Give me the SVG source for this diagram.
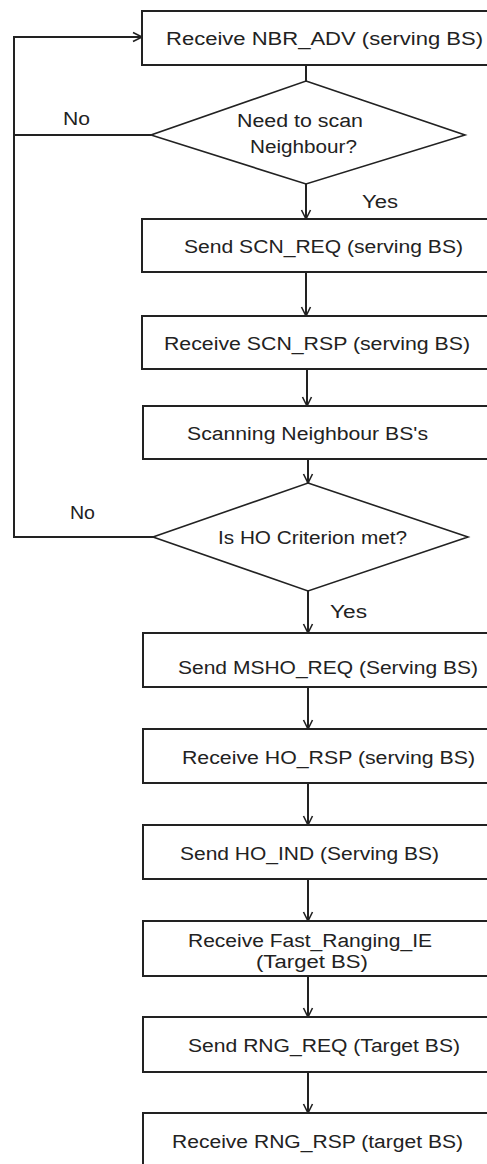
<svg xmlns="http://www.w3.org/2000/svg" width="487" height="1164" viewBox="0 0 487 1164">
  <style>
    .box { fill: #fff; stroke: #222; stroke-width: 2; }
    .dec { fill: #fff; stroke: #222; stroke-width: 1.6; }
    .lbl { font-family: "Liberation Sans", Arial, sans-serif; font-size: 18px; fill: #222; }
    .edge { fill: none; stroke: #222; stroke-width: 2; }
  </style>
  <defs>
    <marker id="arr" viewBox="0 0 12 12" refX="10" refY="6" markerWidth="12" markerHeight="12" markerUnits="userSpaceOnUse" orient="auto">
      <path d="M1,1.5 L10,6 L1,10.5" fill="none" stroke="#222" stroke-width="1.6"/>
      <circle cx="10" cy="6" r="1.4" fill="#222"/>
    </marker>
  </defs>
  <rect width="487" height="1164" fill="#fff"/>

  <g id="connectors">
    <path class="edge" d="M306,65 V81"/>
    <path class="edge" d="M306,184 V219" marker-end="url(#arr)"/>
    <path class="edge" d="M306,272 V316" marker-end="url(#arr)"/>
    <path class="edge" d="M307,369 V406" marker-end="url(#arr)"/>
    <path class="edge" d="M308,459 V483" marker-end="url(#arr)"/>
    <path class="edge" d="M308,591 V633" marker-end="url(#arr)"/>
    <path class="edge" d="M308,687 V729" marker-end="url(#arr)"/>
    <path class="edge" d="M308,783 V825" marker-end="url(#arr)"/>
    <path class="edge" d="M308,879 V921" marker-end="url(#arr)"/>
    <path class="edge" d="M308,976 V1017" marker-end="url(#arr)"/>
    <path class="edge" d="M308,1072 V1113" marker-end="url(#arr)"/>
    <path class="edge" d="M151,135 H14"/>
    <path class="edge" d="M153,537 H14 V37 H142" marker-end="url(#arr)"/>
    <text class="lbl" x="63" y="125" textLength="27" lengthAdjust="spacingAndGlyphs">No</text>
    <text class="lbl" x="362" y="208" textLength="36" lengthAdjust="spacingAndGlyphs">Yes</text>
    <text class="lbl" x="70" y="519" textLength="25" lengthAdjust="spacingAndGlyphs">No</text>
    <text class="lbl" x="330" y="618" textLength="37" lengthAdjust="spacingAndGlyphs">Yes</text>
  </g>

  <g id="n1">
    <rect class="box" x="142" y="11" width="360" height="54"/>
    <text class="lbl" x="166" y="45" textLength="317" lengthAdjust="spacingAndGlyphs">Receive NBR_ADV (serving BS)</text>
  </g>
  <g id="d1">
    <polygon class="dec" points="306,81 465,135 306,184 151,135"/>
    <text class="lbl" x="237" y="127" textLength="126" lengthAdjust="spacingAndGlyphs">Need to scan</text>
    <text class="lbl" x="250" y="153" textLength="107" lengthAdjust="spacingAndGlyphs">Neighbour?</text>
  </g>
  <g id="n2">
    <rect class="box" x="142" y="219" width="360" height="53"/>
    <text class="lbl" x="184" y="253" textLength="279" lengthAdjust="spacingAndGlyphs">Send SCN_REQ (serving BS)</text>
  </g>
  <g id="n3">
    <rect class="box" x="142" y="316" width="360" height="53"/>
    <text class="lbl" x="164" y="350" textLength="306" lengthAdjust="spacingAndGlyphs">Receive SCN_RSP (serving BS)</text>
  </g>
  <g id="n4">
    <rect class="box" x="143" y="406" width="360" height="53"/>
    <text class="lbl" x="187" y="440" textLength="241" lengthAdjust="spacingAndGlyphs">Scanning Neighbour BS's</text>
  </g>
  <g id="d2">
    <polygon class="dec" points="308,483 468,537 308,591 153,537"/>
    <text class="lbl" x="218" y="544" textLength="189" lengthAdjust="spacingAndGlyphs">Is HO Criterion met?</text>
  </g>
  <g id="n5">
    <rect class="box" x="143" y="633" width="360" height="54"/>
    <text class="lbl" x="178" y="674" textLength="300" lengthAdjust="spacingAndGlyphs">Send MSHO_REQ (Serving BS)</text>
  </g>
  <g id="n6">
    <rect class="box" x="143" y="729" width="360" height="54"/>
    <text class="lbl" x="182" y="764" textLength="293" lengthAdjust="spacingAndGlyphs">Receive HO_RSP (serving BS)</text>
  </g>
  <g id="n7">
    <rect class="box" x="143" y="825" width="360" height="54"/>
    <text class="lbl" x="180" y="860" textLength="259" lengthAdjust="spacingAndGlyphs">Send HO_IND (Serving BS)</text>
  </g>
  <g id="n8">
    <rect class="box" x="143" y="921" width="360" height="55"/>
    <text class="lbl" x="188" y="947" textLength="244" lengthAdjust="spacingAndGlyphs">Receive Fast_Ranging_IE</text>
    <text class="lbl" x="256" y="968" textLength="112" lengthAdjust="spacingAndGlyphs">(Target BS)</text>
  </g>
  <g id="n9">
    <rect class="box" x="143" y="1017" width="360" height="55"/>
    <text class="lbl" x="188" y="1052" textLength="272" lengthAdjust="spacingAndGlyphs">Send RNG_REQ (Target BS)</text>
  </g>
  <g id="n10">
    <rect class="box" x="143" y="1113" width="360" height="60"/>
    <text class="lbl" x="172" y="1148" textLength="291" lengthAdjust="spacingAndGlyphs">Receive RNG_RSP (target BS)</text>
  </g>
</svg>
